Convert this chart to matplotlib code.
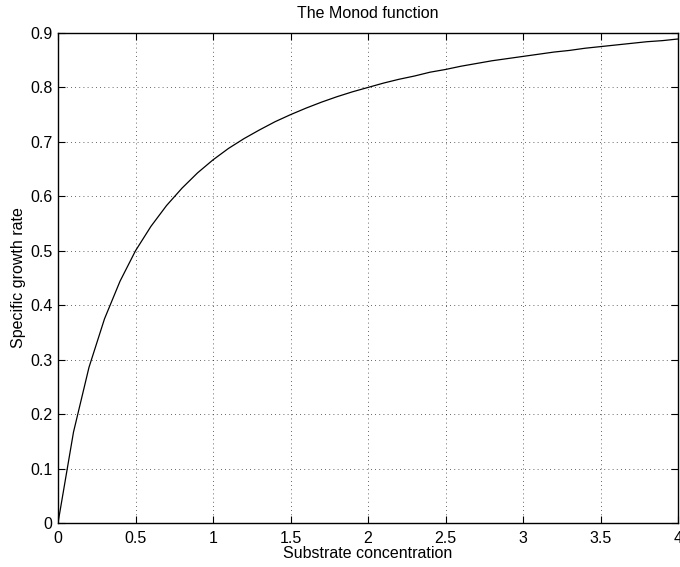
import matplotlib
matplotlib.use("Agg")
import matplotlib.pyplot as plt

plt.rcParams['font.family'] = ['Liberation Sans', 'DejaVu Sans']

# values
substrate = [0.0, 0.1, 0.2, 0.3, 0.4, 0.5, 0.6, 0.7, 0.8, 0.9,
             1.0, 1.1, 1.2, 1.3, 1.4, 1.5, 1.6, 1.7, 1.8, 1.9,
             2.0, 2.1, 2.2, 2.3, 2.4, 2.5, 2.6, 2.7, 2.8, 2.9,
             3.0, 3.1, 3.2, 3.3, 3.4, 3.5, 3.6, 3.7, 3.8, 3.9, 4.0]
growth_rate = [0.0, 0.167, 0.286, 0.375, 0.444, 0.500, 0.545, 0.583, 0.615, 0.643,
               0.667, 0.688, 0.706, 0.722, 0.737, 0.750, 0.762, 0.773, 0.783, 0.792,
               0.800, 0.808, 0.815, 0.821, 0.828, 0.833, 0.839, 0.844, 0.849, 0.853,
               0.857, 0.861, 0.865, 0.868, 0.872, 0.875, 0.878, 0.881, 0.884, 0.886, 0.889]

x_ticks = [0, 0.5, 1, 1.5, 2, 2.5, 3, 3.5, 4]
x_labels = ['0', '0.5', '1', '1.5', '2', '2.5', '3', '3.5', '4']
y_ticks = [0, 0.1, 0.2, 0.3, 0.4, 0.5, 0.6, 0.7, 0.8, 0.9]
y_labels = ['0', '0.1', '0.2', '0.3', '0.4', '0.5', '0.6', '0.7', '0.8', '0.9']

fs = 11.5

fig = plt.figure(figsize=(6.8, 5.67), dpi=100)
ax = fig.add_axes([58 / 680, 44 / 567, 620 / 680, 490 / 567])

ax.plot(substrate, growth_rate, color='black', linewidth=0.9)

ax.set_xlim(0, 4)
ax.set_ylim(0, 0.9)
ax.set_xticks(x_ticks)
ax.set_xticklabels(x_labels)
ax.set_yticks(y_ticks)
ax.set_yticklabels(y_labels)

ax.tick_params(direction='in', length=5, width=0.8, labelsize=fs,
               top=True, right=True)
ax.tick_params(axis='x', pad=6)
ax.tick_params(axis='y', pad=4)
ax.grid(True, linestyle=(0, (1, 4)), color='black', linewidth=0.6, alpha=0.8)
for sp in ax.spines.values():
    sp.set_linewidth(1.0)

ax.set_title('The Monod function', fontsize=fs, pad=11)
ax.set_xlabel('Substrate concentration', fontsize=fs, labelpad=0)
ax.set_ylabel('Specific growth rate', fontsize=fs, labelpad=3)

fig.savefig('out.png', dpi=100)
